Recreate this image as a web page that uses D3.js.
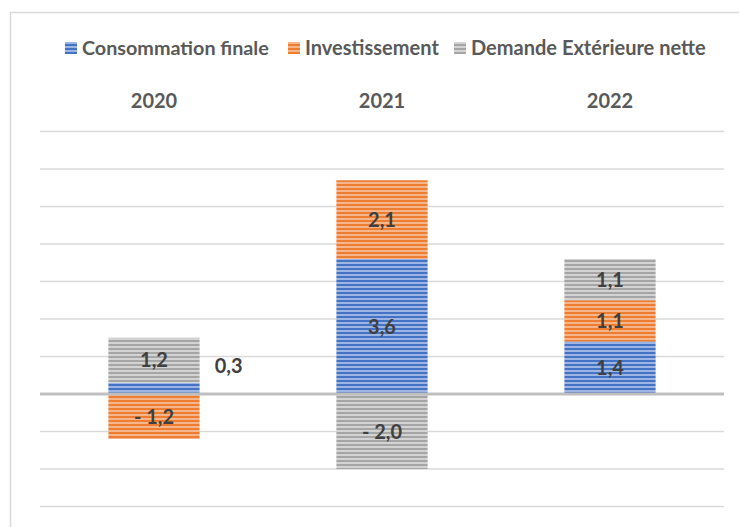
<!DOCTYPE html>
<html><head><meta charset="utf-8">
<script src="https://cdn.jsdelivr.net/npm/d3@7"></script>
<style>body{margin:0;background:#fff}svg{display:block}</style>
</head><body>
<svg id="c" width="739" height="527"></svg>
<script>
const years = ["2020", "2021", "2022"];
const seriesNames = ["Consommation finale", "Investissement", "Demande Extérieure nette"];
const consommation = [0.3, 3.6, 1.4];
const investissement = [-1.2, 2.1, 1.1];
const demandeExt = [1.2, -2.0, 1.1];
const yTicks = [-3, -2, -1, 0, 1, 2, 3, 4, 5, 6, 7];
const colors = ["#4472c4", "#ed7d31", "#a5a5a5"];
const lightColors = ["#9db5e3", "#f6b58a", "#d3d3d3"];

const svg = d3.select("#c");
const FONT = "Lato, 'Open Sans', sans-serif";

// frame
svg.append("line").attr("x1", 10).attr("x2", 739).attr("y1", 12.5).attr("y2", 12.5).attr("stroke", "#d9d9d9").attr("stroke-width", 1.5);
svg.append("line").attr("x1", 10.5).attr("x2", 10.5).attr("y1", 12).attr("y2", 527).attr("stroke", "#d9d9d9").attr("stroke-width", 1.5);

// patterns
const defs = svg.append("defs");
colors.forEach((c, i) => {
  const p = defs.append("pattern").attr("id", "pat" + i).attr("patternUnits", "userSpaceOnUse")
    .attr("width", 8).attr("height", 4);
  p.append("rect").attr("width", 8).attr("height", 4).attr("fill", lightColors[i]);
  p.append("rect").attr("y", 0).attr("width", 8).attr("height", 2).attr("fill", c);
});

const x = d3.scaleBand().domain(years).range([40, 724]).paddingInner(0.6).paddingOuter(0.3);
const y = d3.scaleLinear().domain([-3, 7]).range([506.5, 131.5]);

// gridlines
svg.append("g").selectAll("line").data(yTicks.filter(t => t !== 0)).join("line")
  .attr("x1", 40).attr("x2", 724).attr("y1", d => y(d)).attr("y2", d => y(d))
  .attr("stroke", "#d9d9d9").attr("stroke-width", 1.5);

// data
const rows = years.map((yr, i) => ({year: yr, s0: consommation[i], s1: investissement[i], s2: demandeExt[i]}));
const stack = d3.stack().keys(["s0", "s1", "s2"]).offset(d3.stackOffsetDiverging);
const layers = stack(rows);

const g = svg.append("g");
layers.forEach((layer, li) => {
  g.selectAll(null).data(layer).join("rect")
    .attr("x", d => x(d.data.year))
    .attr("width", x.bandwidth())
    .attr("y", d => y(Math.max(d[0], d[1])))
    .attr("height", d => Math.abs(y(d[0]) - y(d[1])))
    .attr("fill", "url(#pat" + li + ")");
});

// zero line
svg.append("line").attr("x1", 40).attr("x2", 724).attr("y1", y(0)).attr("y2", y(0))
  .attr("stroke", "#bfbfbf").attr("stroke-width", 3);

// labels
const fmt = v => (v < 0 ? "- " : "") + d3.format(".1f")(Math.abs(v)).replace(".", ",");
layers.forEach((layer, li) => {
  layer.forEach(d => {
    const v = d.data[layer.key];
    const small = Math.abs(y(d[0]) - y(d[1])) < 20;
    const cx = small ? x(d.data.year) + x.bandwidth() + 29 : x(d.data.year) + x.bandwidth() / 2;
    const cy = small ? 366 : (y(d[0]) + y(d[1])) / 2;
    svg.append("text").attr("x", cx).attr("y", cy).attr("dy", "0.35em")
      .attr("text-anchor", "middle").attr("font-family", FONT).attr("font-weight", "bold")
      .attr("font-size", 20).attr("fill", "#404040").text(fmt(v));
  });
});

// category labels at top
svg.append("g").selectAll("text").data(years).join("text")
  .attr("x", d => x(d) + x.bandwidth() / 2).attr("y", 101).attr("dy", "0.35em")
  .attr("text-anchor", "middle").attr("font-family", FONT).attr("font-weight", "bold")
  .attr("font-size", 20).attr("fill", "#595959").text(d => d);

// legend
const legX = [65, 288, 454];
const legTextW = [187, 134, 235];
seriesNames.forEach((n, i) => {
  const lg = svg.append("g");
  lg.append("rect").attr("x", legX[i]).attr("y", 42).attr("width", 12).attr("height", 12).attr("fill", "url(#pat" + i + ")");
  const t = lg.append("text").attr("x", legX[i] + 17).attr("y", 48).attr("dy", "0.35em")
    .attr("font-family", FONT).attr("font-weight", "bold").attr("font-size", 16)
    .attr("fill", "#595959").text(n);
  const w = t.node().getComputedTextLength();
  t.attr("font-size", 16 * legTextW[i] / w);
});
</script>
</body></html>
